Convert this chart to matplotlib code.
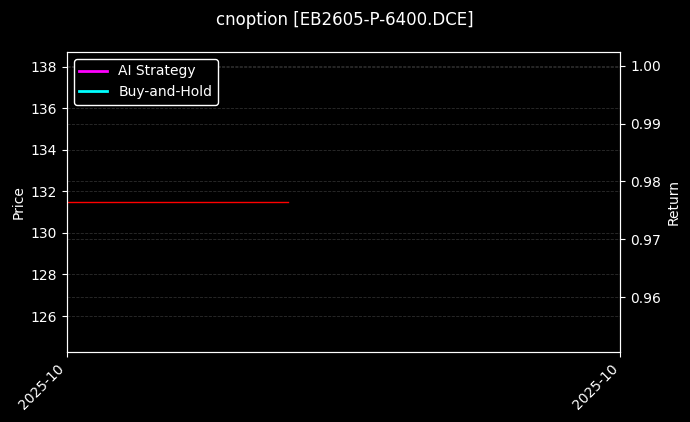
import numpy as np
import pandas as pd
import matplotlib
matplotlib.use("Agg")
import matplotlib.pyplot as plt
import matplotlib.dates as mdates

plt.style.use("dark_background")

# Data
price_dates = pd.to_datetime(["2025-10-01", "2025-10-05"])
price_values = [131.47, 131.47]
return_dates = pd.to_datetime(["2025-10-01"])
ai_return = [1.0]
bh_return = [1.0]
x_start, x_end = pd.Timestamp("2025-10-01"), pd.Timestamp("2025-10-11")

fig, ax = plt.subplots(figsize=(6.9, 4.22), dpi=100)
fig.subplots_adjust(left=0.097, right=0.899, top=0.877, bottom=0.166)

ax.plot(price_dates, price_values, color="red", linewidth=1)
ax.set_ylabel("Price")
ax.set_ylim(124.27, 138.72)
ax.grid(True, linestyle="--", color="grey", alpha=0.35, linewidth=0.6)

ax2 = ax.twinx()
ax2.plot(return_dates, ai_return, color="#ff00ff", linewidth=2, label="AI Strategy")
ax2.plot(return_dates, bh_return, color="#00ffff", linewidth=2, label="Buy-and-Hold")
ax2.set_ylabel("Return")
ax2.set_ylim(0.9505, 1.0024)
ax2.grid(True, linestyle="--", color="grey", alpha=0.35, linewidth=0.6)

ax.set_xlim(x_start, x_end)
ax.set_xticks([x_start, x_end])
ax.xaxis.set_major_formatter(mdates.DateFormatter("%Y-%m"))
plt.setp(ax.get_xticklabels(), rotation=45, ha="right")

ax2.legend(loc="upper left", facecolor="black", edgecolor="white", framealpha=1)

fig.suptitle("cnoption [EB2605-P-6400.DCE]", fontsize=12, y=0.975)

plt.savefig("out.png", dpi=100)
